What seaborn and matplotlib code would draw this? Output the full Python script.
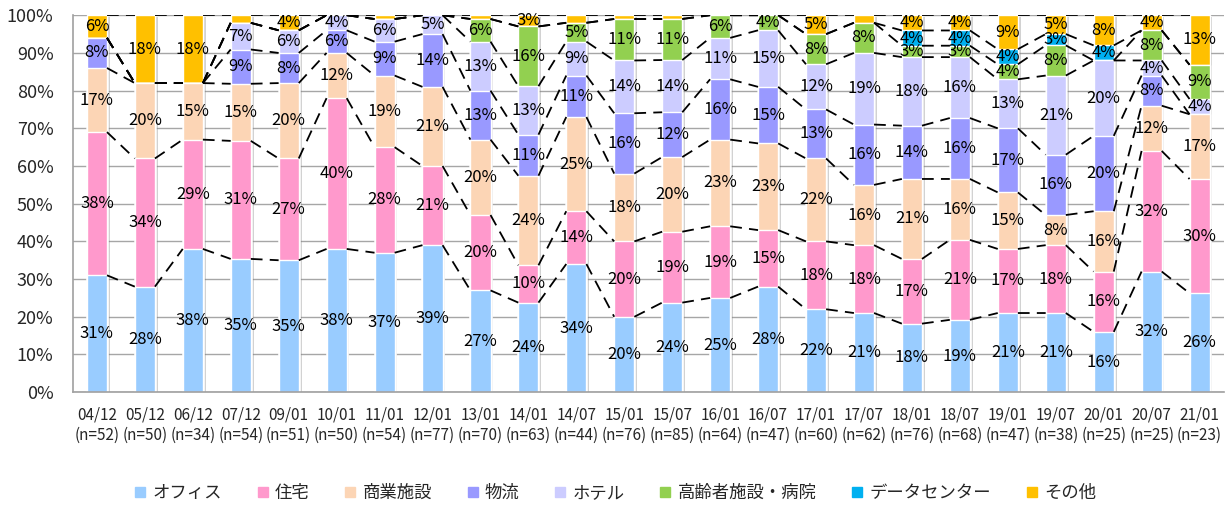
import numpy as np
import pandas as pd
import seaborn as sns
import matplotlib
matplotlib.use("Agg")
import matplotlib.pyplot as plt
import matplotlib.patheffects as pe
from matplotlib.lines import Line2D

# =============================================================================
# Daten
# =============================================================================
dates = ["04/12", "05/12", "06/12", "07/12", "09/01", "10/01", "11/01", "12/01",
         "13/01", "14/01", "14/07", "15/01", "15/07", "16/01", "16/07", "17/01",
         "17/07", "18/01", "18/07", "19/01", "19/07", "20/01", "20/07", "21/01"]
n_resp = [52, 50, 34, 54, 51, 50, 54, 77, 70, 63, 44, 76, 85, 64, 47, 60,
          62, 76, 68, 47, 38, 25, 25, 23]

series_names = ["オフィス", "住宅", "商業施設", "物流", "ホテル",
                "高齢者施設・病院", "データセンター", "その他"]
office = [31, 28, 38, 35, 35, 38, 37, 39, 27, 24, 34, 20, 24, 25, 28, 22, 21, 18, 19, 21, 21, 16, 32, 26]
housing = [38, 34, 29, 31, 27, 40, 28, 21, 20, 10, 14, 20, 19, 19, 15, 18, 18, 17, 21, 17, 18, 16, 32, 30]
commercial = [17, 20, 15, 15, 20, 12, 19, 21, 20, 24, 25, 18, 20, 23, 23, 22, 16, 21, 16, 15, 8, 16, 12, 17]
logistics = [8, 0, 0, 9, 8, 6, 9, 14, 13, 11, 11, 16, 12, 16, 15, 13, 16, 14, 16, 17, 16, 20, 8, 0]
hotel = [0, 0, 0, 7, 6, 4, 6, 5, 13, 13, 9, 14, 14, 11, 15, 12, 19, 18, 16, 13, 21, 20, 4, 4]
elderly = [0, 0, 0, 0, 0, 0, 0, 0, 6, 16, 5, 11, 11, 6, 4, 8, 8, 3, 3, 4, 8, 0, 8, 9]
datacenter = [0, 0, 0, 0, 0, 0, 0, 0, 0, 0, 0, 0, 0, 0, 0, 0, 0, 4, 4, 4, 3, 4, 0, 0]
other = [6, 18, 18, 2, 4, 0, 1, 0, 1, 3, 2, 1, 1, 0, 0, 5, 2, 4, 4, 9, 5, 8, 4, 13]

colors = ["#99CCFF", "#FF99CC", "#FCD5B5", "#9999FF", "#CCCCFF",
          "#92D050", "#00B0F0", "#FFC000"]

labels = [f"{d}\n(n={n})" for d, n in zip(dates, n_resp)]
vals = np.array([office, housing, commercial, logistics, hotel, elderly, datacenter, other], dtype=float)
pct = vals / vals.sum(axis=0) * 100      # 100%-Stapel
cum = np.cumsum(pct, axis=0)

# =============================================================================
# Plot
# =============================================================================
sns.set_theme(style="white")
plt.rcParams["font.family"] = ["Noto Sans CJK JP", "DejaVu Sans"]

fig, ax = plt.subplots(figsize=(12.26, 5.08), dpi=100)
fig.subplots_adjust(left=0.0595, right=0.998, bottom=0.228, top=0.970)

w = 0.42
# gestapelt: kumulierte Summen von oben nach unten uebereinander zeichnen
for k in range(len(series_names) - 1, -1, -1):
    df = pd.DataFrame({"x": labels, "y": cum[k]})
    n_before = len(ax.patches)
    sns.barplot(data=df, x="x", y="y", order=labels, color=colors[k], saturation=1,
                width=w, edgecolor="white", linewidth=1, errorbar=None, ax=ax)
    if k == len(series_names) - 1:
        for p in ax.patches[n_before:]:
            p.set_path_effects([pe.SimplePatchShadow(offset=(2, -1), shadow_rgbFace="gray", alpha=0.35),
                                pe.Normal()])

# Verbindungslinien
xs = np.arange(len(labels))
for k in range(len(series_names)):
    lx, ly = [], []
    for i in range(len(labels) - 1):
        lx += [xs[i] + w / 2, xs[i + 1] - w / 2, np.nan]
        ly += [cum[k, i], cum[k, i + 1], np.nan]
    ax.plot(lx, ly, color="black", lw=1.3, ls=(0, (6.5, 4)), zorder=3)

# Beschriftungen
for k in range(len(series_names)):
    for i in range(len(labels)):
        v = vals[k, i]
        if v >= 3:
            ax.text(xs[i], cum[k, i] - pct[k, i] / 2, f"{int(v)}%", ha="center", va="center",
                    fontsize=12, color="black", zorder=4)

ax.set_xlim(-0.5, len(labels) - 0.5)
ax.set_ylim(0, 100)
ax.set_yticks(np.arange(0, 101, 10))
ax.set_yticklabels([f"{t}%" for t in range(0, 101, 10)], fontsize=13)
ax.set_xticks(xs)
ax.set_xticklabels(labels, fontsize=11, linespacing=1.3)
ax.set_xticks(np.arange(-0.5, len(labels), 1), minor=True)
ax.tick_params(axis="x", which="major", length=0, pad=10)
ax.tick_params(axis="x", which="minor", direction="in", length=5, color="#A0A0A0", width=1)
ax.tick_params(axis="y", length=0, pad=14)
ax.set_xlabel("")
ax.set_ylabel("")

ax.yaxis.grid(True, color="#A6A6A6", lw=1)
ax.set_axisbelow(True)
for s in ["top", "right"]:
    ax.spines[s].set_visible(False)
for s in ["left", "bottom"]:
    ax.spines[s].set_color("#A0A0A0")
    ax.spines[s].set_linewidth(1.2)

handles = [Line2D([0], [0], marker="s", ls="none", markersize=7, color=c) for c in colors]
fig.legend(handles, series_names, loc="center", bbox_to_anchor=(0.5, 0.03), ncol=8,
           frameon=False, fontsize=12.5, handletextpad=0.1, handlelength=1.2, columnspacing=1.75)

plt.savefig("out.png", dpi=100)
